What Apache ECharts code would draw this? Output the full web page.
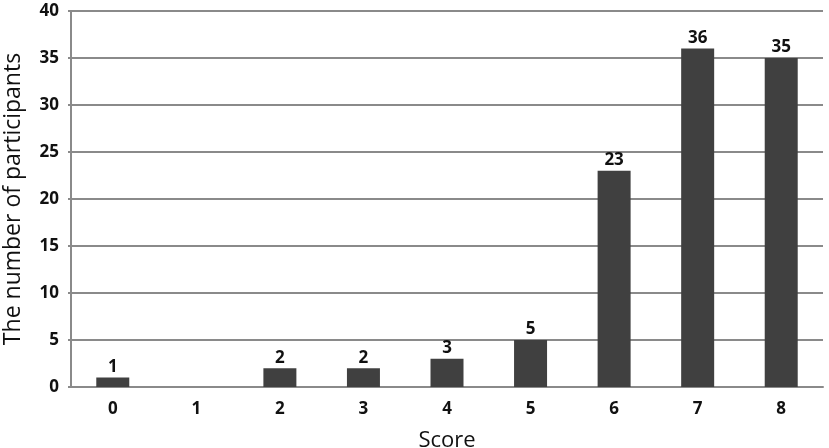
<!DOCTYPE html>
<html>
<head>
<meta charset="utf-8">
<script src="https://cdn.jsdelivr.net/npm/echarts@6/dist/echarts.min.js"></script>
<style>
  html, body { margin: 0; padding: 0; background: #fff; }
  #chart { width: 829px; height: 448px; }
</style>
</head>
<body>
<div id="chart"></div>
<script>
// scores on the x axis and how many participants got each one
var scores = ['0', '1', '2', '3', '4', '5', '6', '7', '8'];
var participants = [1, 0, 2, 2, 3, 5, 23, 36, 35];

var myChart = echarts.init(document.getElementById('chart'));

var option = {
    animation: false,
    grid: { left: 71, right: 6, top: 11, bottom: 61, outerBoundsMode: 'none' },
    xAxis: {
        type: 'category',
        data: scores,
        name: 'Score',
        nameLocation: 'middle',
        nameGap: 43,
        nameTextStyle: { fontFamily: 'Open Sans', fontSize: 22, color: '#111' },
        axisLine: { lineStyle: { color: '#8a8a8a', width: 2 } },
        axisTick: { length: 4, lineStyle: { color: '#8a8a8a', width: 2 } },
        axisLabel: { margin: 14, fontFamily: 'Open Sans', fontWeight: 'bold', fontSize: 17, color: '#111' }
    },
    yAxis: {
        type: 'value',
        min: 0,
        max: 40,
        interval: 5,
        name: 'The number of participants',
        nameLocation: 'middle',
        nameGap: 46,
        nameTextStyle: { fontFamily: 'Open Sans', fontSize: 23, color: '#111' },
        axisLine: { show: true, lineStyle: { color: '#8a8a8a', width: 2 } },
        axisTick: { show: true, length: 3, lineStyle: { color: '#8a8a8a', width: 2 } },
        splitLine: { lineStyle: { color: '#8a8a8a', width: 2 } },
        axisLabel: { margin: 12, fontFamily: 'Open Sans', fontWeight: 'bold', fontSize: 17, color: '#111' }
    },
    series: [{
        type: 'bar',
        data: participants,
        barWidth: 33,
        itemStyle: { color: '#404040' },
        label: {
            show: true,
            position: 'top',
            distance: 2,
            fontFamily: 'Open Sans',
            fontWeight: 'bold',
            fontSize: 17,
            color: '#111',
            formatter: function (p) { return p.value === 0 ? '' : p.value; }
        }
    }]
};

myChart.setOption(option);
</script>
</body>
</html>
